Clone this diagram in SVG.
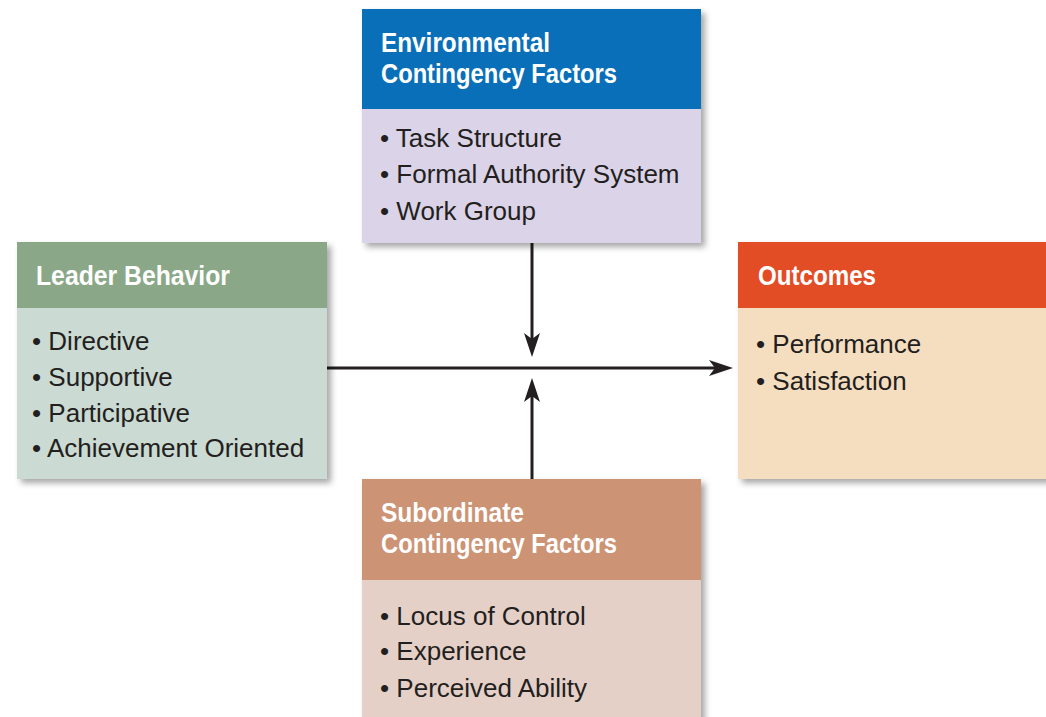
<svg xmlns="http://www.w3.org/2000/svg" width="1046" height="717" viewBox="0 0 1046 717">
  <style>
    .hd { font-family: "Liberation Sans", Arial, sans-serif; font-weight: bold; font-size: 27px; fill: #ffffff; }
    .bd { font-family: "Liberation Sans", Arial, sans-serif; font-size: 26px; fill: #231f20; }
    .ln { stroke: #231f20; stroke-width: 3; fill: none; }
    .box { filter: url(#sh); }
  </style>
  <defs>
    <filter id="sh" x="-5%" y="-5%" width="115%" height="115%">
      <feDropShadow dx="4" dy="4" stdDeviation="3" flood-color="#000" flood-opacity="0.35"/>
    </filter>
    <marker id="ah" viewBox="0 0 24 16" refX="6" refY="8" markerWidth="24" markerHeight="16" markerUnits="userSpaceOnUse" orient="auto">
      <path d="M0,0 L24,8 L0,16 L6,8 Z" fill="#231f20"/>
    </marker>
  </defs>
  <rect width="1046" height="717" fill="#ffffff"/>

  <g id="connectors">
    <line class="ln" x1="532" y1="243" x2="532" y2="339" marker-end="url(#ah)"/>
    <line class="ln" x1="327" y1="368" x2="715" y2="368" marker-end="url(#ah)"/>
    <line class="ln" x1="532" y1="479" x2="532" y2="396" marker-end="url(#ah)"/>
  </g>

  <g id="environmental">
    <g class="box">
      <rect x="362" y="9" width="339" height="234" fill="#dbd3e7"/>
    </g>
    <rect x="362" y="9" width="339" height="100" fill="#0a6fb9"/>
    <text class="hd" x="381" y="52" textLength="169" lengthAdjust="spacingAndGlyphs">Environmental</text>
    <text class="hd" x="381" y="83" textLength="236" lengthAdjust="spacingAndGlyphs">Contingency Factors</text>
    <text class="bd" x="380" y="147">• Task Structure</text>
    <text class="bd" x="380" y="183">• Formal Authority System</text>
    <text class="bd" x="380" y="220">• Work Group</text>
  </g>

  <g id="leader">
    <g class="box">
      <rect x="17" y="242" width="310" height="237" fill="#cbdad2"/>
    </g>
    <rect x="17" y="242" width="310" height="66" fill="#8aa888"/>
    <text class="hd" x="36" y="285" textLength="194" lengthAdjust="spacingAndGlyphs">Leader  Behavior</text>
    <text class="bd" x="32" y="350">• Directive</text>
    <text class="bd" x="32" y="386">• Supportive</text>
    <text class="bd" x="32" y="422">• Participative</text>
    <text class="bd" x="32" y="457">• Achievement Oriented</text>
  </g>

  <g id="outcomes">
    <g class="box">
      <rect x="738" y="242" width="320" height="237" fill="#f5dec0"/>
    </g>
    <rect x="738" y="242" width="320" height="66" fill="#e34d26"/>
    <text class="hd" x="758" y="285" textLength="118" lengthAdjust="spacingAndGlyphs">Outcomes</text>
    <text class="bd" x="756" y="353">• Performance</text>
    <text class="bd" x="756" y="390">• Satisfaction</text>
  </g>

  <g id="subordinate">
    <g class="box">
      <rect x="362" y="479" width="339" height="250" fill="#e5d0c8"/>
    </g>
    <rect x="362" y="479" width="339" height="101" fill="#cc9374"/>
    <text class="hd" x="381" y="522" textLength="143" lengthAdjust="spacingAndGlyphs">Subordinate</text>
    <text class="hd" x="381" y="553" textLength="236" lengthAdjust="spacingAndGlyphs">Contingency Factors</text>
    <text class="bd" x="380" y="625">• Locus of Control</text>
    <text class="bd" x="380" y="660">• Experience</text>
    <text class="bd" x="380" y="697">• Perceived Ability</text>
  </g>
</svg>
